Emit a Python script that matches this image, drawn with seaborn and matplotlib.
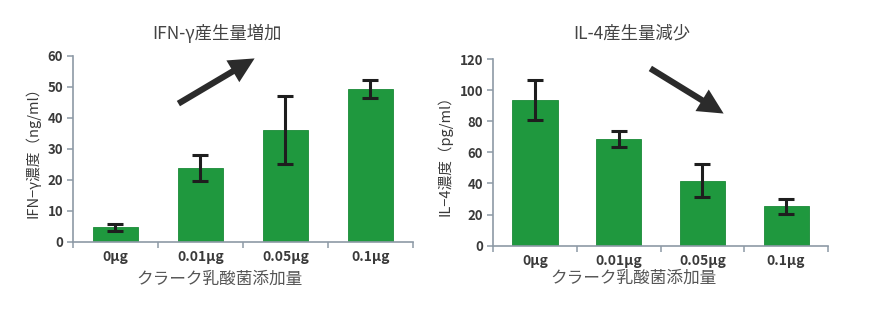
import matplotlib
matplotlib.use("Agg")
import matplotlib.pyplot as plt
import seaborn as sns
import pandas as pd

sns.set_theme(style="white")
plt.rcParams["font.family"] = ["Noto Sans CJK JP", "DejaVu Sans"]

# Data
doses = ["0μg", "0.01μg", "0.05μg", "0.1μg"]
ifn_mean = [4.8, 24.0, 36.0, 49.4]
ifn_err = [1.1, 4.2, 11.0, 2.8]
il4_mean = [93.6, 68.6, 41.8, 25.5]
il4_err = [13.0, 5.0, 10.5, 4.8]

xlabel = "クラーク乳酸菌添加量"
bar_green = "#1f983e"
edge_green = "#1a8a37"
text_color = "#3a3a3a"
spine_color = "#8d9aa6"

fig = plt.figure(figsize=(8.7, 3.23), dpi=100)
fig.patch.set_facecolor("white")


def draw_panel(rect, means, errs, ymax, ystep, ylabel, xlabel_pos):
    ax = fig.add_axes(rect)
    df = pd.DataFrame({"dose": doses, "value": means})
    sns.barplot(data=df, x="dose", y="value", color=bar_green, width=0.54,
                saturation=1, edgecolor=edge_green, linewidth=0.6, ax=ax,
                errorbar=None)
    ax.errorbar(range(len(doses)), means, yerr=errs, fmt="none",
                ecolor="#1e1e1e", elinewidth=2.2, capsize=6, capthick=2.2,
                zorder=5)
    ax.set_xlim(-0.5, len(doses) - 0.5)
    ax.set_ylim(0, ymax)
    ax.set_yticks(range(0, ymax + 1, ystep))
    ax.set_xticks(range(len(doses)))
    ax.set_xticklabels(doses)
    ax.set_xticks([i - 0.5 for i in range(len(doses) + 1)], minor=True)
    ax.tick_params(axis="x", which="major", length=0, pad=6,
                   labelsize=10, labelcolor=text_color)
    ax.tick_params(axis="x", which="minor", length=4, width=1.1,
                   color=spine_color, direction="out", bottom=True)
    ax.tick_params(axis="y", length=4, width=1.1, color=spine_color,
                   direction="out", left=True, labelsize=9.5,
                   labelcolor=text_color, pad=3)
    for lab in ax.get_xticklabels() + ax.get_yticklabels():
        lab.set_fontweight("bold")
    for side in ("top", "right"):
        ax.spines[side].set_visible(False)
    for side in ("left", "bottom"):
        ax.spines[side].set_color(spine_color)
        ax.spines[side].set_linewidth(1.2)
    ax.set_xlabel(xlabel, fontsize=12, color="#555555")
    ax.xaxis.set_label_coords(*xlabel_pos)
    ax.set_ylabel(ylabel, fontsize=10.5, color=text_color, labelpad=5)
    ax.grid(False)
    return ax


draw_panel([0.0839, 0.2508, 0.3908, 0.5759], ifn_mean, ifn_err, 60, 10,
           "IFN−γ濃度（ng/ml）", (0.432, -0.155))
draw_panel([0.5667, 0.2393, 0.3850, 0.5780], il4_mean, il4_err, 120, 20,
           "IL−4濃度（pg/ml）", (0.418, -0.13))

# Panel headings
fig.text(217 / 870, 1 - 33 / 323, "IFN-γ産生量増加", fontsize=12.5,
         color="#444444", ha="center", va="center")
fig.text(632 / 870, 1 - 33 / 323, "IL-4産生量減少", fontsize=12.5,
         color="#444444", ha="center", va="center")

# Trend arrows
arrow_style = dict(arrowstyle="simple,head_length=1.3,head_width=1.3,tail_width=0.32",
                   mutation_scale=14, color="#2b2b2b", lw=0)
fig.add_artist(matplotlib.patches.FancyArrowPatch(
    (176 / 870, 1 - 105 / 323), (257 / 870, 1 - 57 / 323),
    transform=fig.transFigure, **arrow_style))
fig.add_artist(matplotlib.patches.FancyArrowPatch(
    (648 / 870, 1 - 67 / 323), (726 / 870, 1 - 115 / 323),
    transform=fig.transFigure, **arrow_style))

fig.savefig("out.png", dpi=100)
